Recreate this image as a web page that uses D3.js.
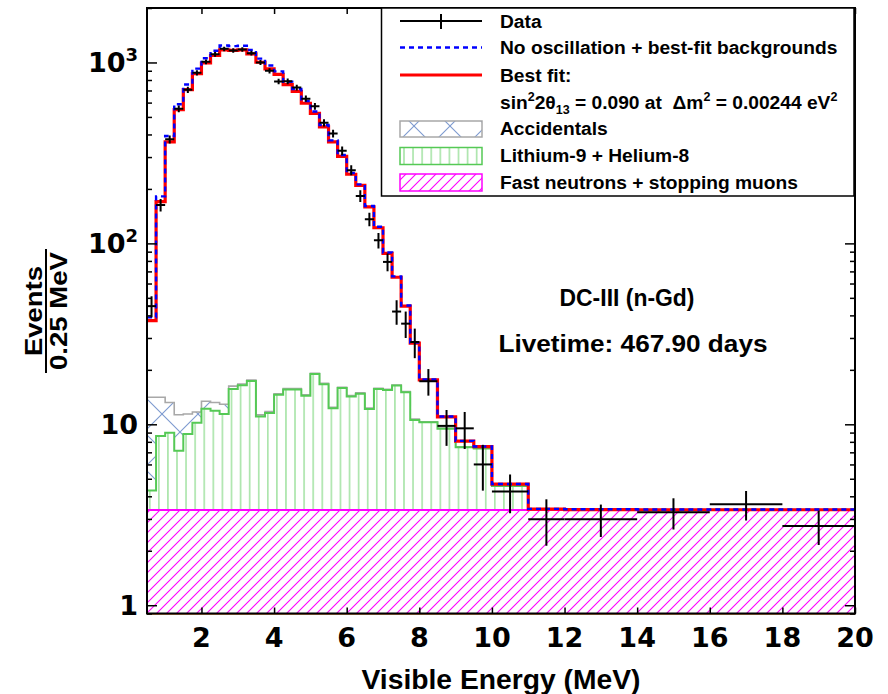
<!DOCTYPE html>
<html>
<head>
<meta charset="utf-8">
<script src="https://cdn.jsdelivr.net/npm/d3@7"></script>
<style>
body { margin: 0; background: #fff; }
text { font-family: "Liberation Sans", Arial, sans-serif; font-weight: bold; }
.tick-label { font-family: "DejaVu Sans", sans-serif; font-weight: bold; }
</style>
</head>
<body>
<div id="chart"></div>
<script>
// bin edges in MeV: 0.25 MeV bins up to 8 MeV, wider bins above
var binEdges = [0.5,0.75,1,1.25,1.5,1.75,2,2.25,2.5,2.75,3,3.25,3.5,3.75,4,4.25,4.5,4.75,5,5.25,
                5.5,5.75,6,6.25,6.5,6.75,7,7.25,7.5,7.75,8,8.5,9,9.5,10,11,12,14,16,18,20];

// everything below is events / 0.25 MeV, one value per bin
var dataObs = [45,163,376,554,706,876,1008,1109,1189,1166,1180,1125,1000,899,785,787,727,631,572,464,
               405,325,254,183,136,104,79,42,36,28.5,17.3,9.8,9.5,6.0,4.25,2.99,2.99,3.26,3.61,2.74];
var dataErr = [6,13,19,24,27,30,32,33,34,34,34,34,32,30,28,28,27,25,24,22,
               20,18,16,13.5,11.7,10.2,8.9,6.5,6.0,5.3,2.9,2.2,2.2,1.7,1.03,0.86,0.61,0.64,0.67,0.59];
var bestFit = [37.4,170,364,548,707,868,993,1093,1174,1166,1174,1115,1003,922,859,755,692,595,523,441,
               364,303,241,209,159,122,88,65,45,28.1,17.6,11.0,8.08,7.52,4.67,3.40,3.38,3.37,3.37,3.37];
var noOsc = [39,182,392,588,756,925,1056,1160,1242,1231,1236,1171,1050,962,893,782,714,612,536,451,
             371,308,245,212,161,123.5,89,65.7,45.4,28.3,17.7,11.05,8.1,7.54,4.68,3.41,3.39,3.38,3.38,3.38];
var accidentals = [9.8,5.5,4.2,4.15,2.56,1.5,1.2,1.3,1.5,0.6,0.25,0.22,0.22,0.2,0.2,0.2,0.18,0.18,0.18,0.17,
                   0.17,0.16,0.16,0.15,0.15,0.14,0.14,0.13,0.13,0.12,0.08,0.06,0.05,0.05,0.03,0.02,0.02,0.02,0.02,0.02];
var lithium = [0.94,5.25,5.63,3.79,5.48,6.84,8.84,8.54,8.04,12.3,13.1,14.0,7.7,8.2,11.2,12.2,12.2,11.0,15.6,13.3,
               8.9,12.5,10.9,11.4,8.8,12.3,12.1,13.0,11.7,7.2,6.9,6.1,4.1,4.0,1.2,0,0,0,0,0];
var fastNeutrons = [3.36,3.36,3.36,3.36,3.36,3.36,3.36,3.36,3.36,3.36,3.36,3.36,3.36,3.36,3.36,3.36,3.36,3.36,3.36,3.36,
                    3.36,3.36,3.36,3.36,3.36,3.36,3.36,3.36,3.36,3.36,3.36,3.36,3.36,3.36,3.36,3.36,3.36,3.36,3.36,3.36];

var xTicks = [2,4,6,8,10,12,14,16,18,20];
var yMajor = [1,10,100,1000];
var yMajorLabels = ["1","10","10^2","10^3"];

// dimension of the frame
var width = 888, height = 694;
var frame = {left:147, right:855, top:8, bottom:613.5};

var svg = d3.select("#chart").append("svg")
    .attr("width", width)
    .attr("height", height);

var x = d3.scaleLinear().domain([0.5, 20]).range([frame.left, frame.right]);
var y = d3.scaleLog().domain([0.9, 2000]).range([frame.bottom, frame.top]);

// hatch patterns (ROOT style fills)
var defs = svg.append("defs");
defs.append("clipPath").attr("id", "clip").append("rect")
    .attr("x", frame.left).attr("y", frame.top)
    .attr("width", frame.right - frame.left).attr("height", frame.bottom - frame.top);

function pattern(id, w, h, d, color) {
    var p = defs.append("pattern").attr("id", id)
        .attr("patternUnits", "userSpaceOnUse")
        .attr("width", w).attr("height", h);
    p.append("rect").attr("width", w).attr("height", h).attr("fill", "#fff");
    p.append("path").attr("d", d).attr("stroke", color).attr("stroke-width", 1.1).attr("fill", "none");
}
pattern("hatchAcc", 36, 36, "M0,0L36,36M36,0L0,36M-18,18L-0,36M18,-18L54,18M-18,18L18,-18M18,54L54,18", "#7d9ad0");
pattern("hatchLi", 9.08, 10, "M4.5,0V10", "#7fd87f");
pattern("hatchFn", 10, 10, "M0,10L10,0M-5,5L5,-5M5,15L15,5", "#ff00ff");

// build the stacked backgrounds from the component arrays
var table = dataObs.map(function(d, i) {
    return {lo: binEdges[i], hi: binEdges[i+1], fast: fastNeutrons[i], li: lithium[i], acc: accidentals[i],
            obs: d, err: dataErr[i], fit: bestFit[i], noosc: noOsc[i]};
});
var stacked = d3.stack().keys(["fast", "li", "acc"])(table);

function stepPts(values) {
    var pts = values.map(function(v, i) { return [binEdges[i], v]; });
    pts.push([binEdges[binEdges.length - 1], values[values.length - 1]]);
    return pts;
}
var stepLine = d3.line()
    .x(function(d) { return x(d[0]); })
    .y(function(d) { return y(d[1]); })
    .curve(d3.curveStepAfter);
var stepArea = d3.area()
    .x(function(d) { return x(d[0]); })
    .y0(frame.bottom)
    .y1(function(d) { return y(d[1]); })
    .curve(d3.curveStepAfter);

var plot = svg.append("g").attr("clip-path", "url(#clip)");

// background layers, top of stack first
var layerStyle = [
    {fill: "url(#hatchFn)", stroke: "#ff00ff", sw: 2},
    {fill: "url(#hatchLi)", stroke: "#55c955", sw: 2},
    {fill: "url(#hatchAcc)", stroke: "#a8a8a8", sw: 1.6}
];
[2, 1, 0].forEach(function(k) {
    var tops = stacked[k].map(function(d) { return d[1]; });
    plot.append("path").attr("d", stepArea(stepPts(tops))).attr("fill", layerStyle[k].fill);
    plot.append("path").attr("d", stepLine(stepPts(tops)))
        .attr("fill", "none").attr("stroke", layerStyle[k].stroke).attr("stroke-width", layerStyle[k].sw);
});

// best fit and no-oscillation predictions
plot.append("path").attr("d", stepLine(stepPts(bestFit)))
    .attr("fill", "none").attr("stroke", "#ff0000").attr("stroke-width", 3.2);
plot.append("path").attr("d", stepLine(stepPts(noOsc)))
    .attr("fill", "none").attr("stroke", "#0000ff").attr("stroke-width", 2.4)
    .attr("stroke-dasharray", "5,4");

// data points
var pts = plot.append("g").selectAll("g")
    .data(table)
    .enter().append("g")
    .attr("stroke", "#000").attr("stroke-width", 2);
pts.append("line")
    .attr("x1", function(d) { return x(d.lo); })
    .attr("x2", function(d) { return x(d.hi); })
    .attr("y1", function(d) { return y(d.obs); })
    .attr("y2", function(d) { return y(d.obs); });
pts.append("line")
    .attr("x1", function(d) { return x((d.lo + d.hi) / 2); })
    .attr("x2", function(d) { return x((d.lo + d.hi) / 2); })
    .attr("y1", function(d) { return y(d.obs - d.err); })
    .attr("y2", function(d) { return y(d.obs + d.err); });

// bottom edge line
svg.append("line").attr("x1", frame.left).attr("x2", frame.right)
    .attr("y1", frame.bottom + 0.5).attr("y2", frame.bottom + 0.5)
    .attr("stroke", "#b5651d").attr("stroke-width", 1.5);

// axes, ticks pointing inwards
function styleAxis(g) {
    g.select(".domain").remove();
    g.selectAll("line").attr("stroke", "#000").attr("stroke-width", 1.5);
    g.selectAll("text").remove();
}
svg.append("g").attr("transform", "translate(0," + frame.bottom + ")")
    .call(d3.axisBottom(x).tickValues(xTicks).tickSizeInner(-6).tickSizeOuter(0)).call(styleAxis);
svg.append("g").attr("transform", "translate(0," + frame.top + ")")
    .call(d3.axisTop(x).tickValues(xTicks).tickSizeInner(-6).tickSizeOuter(0)).call(styleAxis);

var yMinor = y.ticks().filter(function(v) { return yMajor.indexOf(v) < 0; });
svg.append("g").attr("transform", "translate(" + frame.left + ",0)")
    .call(d3.axisLeft(y).tickValues(yMajor).tickSizeInner(-10).tickSizeOuter(0)).call(styleAxis);
svg.append("g").attr("transform", "translate(" + frame.left + ",0)")
    .call(d3.axisLeft(y).tickValues(yMinor).tickSizeInner(-5).tickSizeOuter(0)).call(styleAxis);
svg.append("g").attr("transform", "translate(" + frame.right + ",0)")
    .call(d3.axisRight(y).tickValues(yMajor).tickSizeInner(-10).tickSizeOuter(0)).call(styleAxis);
svg.append("g").attr("transform", "translate(" + frame.right + ",0)")
    .call(d3.axisRight(y).tickValues(yMinor).tickSizeInner(-5).tickSizeOuter(0)).call(styleAxis);

// frame
svg.append("rect")
    .attr("x", frame.left).attr("y", frame.top)
    .attr("width", frame.right - frame.left).attr("height", frame.bottom - frame.top)
    .attr("fill", "none").attr("stroke", "#000").attr("stroke-width", 2);

// tick labels
svg.append("g").selectAll("text")
    .data(xTicks)
    .enter().append("text")
    .attr("class", "tick-label")
    .attr("x", function(d) { return x(d); })
    .attr("y", 647)
    .attr("text-anchor", "middle")
    .attr("font-size", 27)
    .text(function(d) { return d; });

var yl = svg.append("g").selectAll("text")
    .data(yMajor)
    .enter().append("text")
    .attr("class", "tick-label")
    .attr("x", 138)
    .attr("y", function(d) { return y(d) + 10; })
    .attr("text-anchor", "end")
    .attr("font-size", 27);
yl.each(function(d, i) {
    var parts = yMajorLabels[i].split("^");
    var t = d3.select(this);
    t.append("tspan").text(parts[0]);
    if (parts[1]) {
        t.append("tspan").attr("font-size", 18).attr("dy", -11).text(parts[1]);
    }
});

// axis titles
svg.append("text")
    .attr("x", 501).attr("y", 689)
    .attr("text-anchor", "middle")
    .attr("font-size", 27)
    .attr("textLength", 279).attr("lengthAdjust", "spacingAndGlyphs")
    .text("Visible Energy (MeV)");

var ytitle = svg.append("g").attr("transform", "translate(46,311) rotate(-90)");
ytitle.append("text").attr("x", 0).attr("y", -4).attr("text-anchor", "middle")
    .attr("font-size", 24).attr("textLength", 90).attr("lengthAdjust", "spacingAndGlyphs")
    .text("Events");
ytitle.append("line").attr("x1", -62).attr("x2", 62).attr("y1", 0).attr("y2", 0)
    .attr("stroke", "#000").attr("stroke-width", 2);
ytitle.append("text").attr("x", 0).attr("y", 21).attr("text-anchor", "middle")
    .attr("font-size", 24).attr("textLength", 118).attr("lengthAdjust", "spacingAndGlyphs")
    .text("0.25 MeV");

// annotations
svg.append("text").attr("x", 627).attr("y", 306).attr("text-anchor", "middle")
    .attr("font-size", 23).attr("textLength", 135).attr("lengthAdjust", "spacingAndGlyphs")
    .text("DC-III (n-Gd)");
svg.append("text").attr("x", 633).attr("y", 352).attr("text-anchor", "middle")
    .attr("font-size", 23).attr("textLength", 269).attr("lengthAdjust", "spacingAndGlyphs")
    .text("Livetime: 467.90 days");

// legend
var legend = svg.append("g");
legend.append("rect")
    .attr("x", 381.5).attr("y", frame.top).attr("width", 472.5).attr("height", 188)
    .attr("fill", "#fff").attr("stroke", "#000").attr("stroke-width", 1.5);

var lx0 = 400, lx1 = 482, tx = 500;
legend.append("line").attr("x1", lx0).attr("x2", lx1).attr("y1", 21).attr("y2", 21)
    .attr("stroke", "#000").attr("stroke-width", 2);
legend.append("line").attr("x1", 441).attr("x2", 441).attr("y1", 14).attr("y2", 29)
    .attr("stroke", "#000").attr("stroke-width", 2);
legend.append("line").attr("x1", lx0).attr("x2", lx1).attr("y1", 47.5).attr("y2", 47.5)
    .attr("stroke", "#0000ff").attr("stroke-width", 2.4).attr("stroke-dasharray", "5,4");
legend.append("line").attr("x1", lx0).attr("x2", lx1).attr("y1", 75).attr("y2", 75)
    .attr("stroke", "#ff0000").attr("stroke-width", 3);
legend.append("rect").attr("x", lx0).attr("y", 121).attr("width", lx1 - lx0).attr("height", 16)
    .attr("fill", "url(#hatchAcc)").attr("stroke", "#a8a8a8").attr("stroke-width", 1.5);
legend.append("rect").attr("x", lx0).attr("y", 147.5).attr("width", lx1 - lx0).attr("height", 17)
    .attr("fill", "url(#hatchLi)").attr("stroke", "#55c955").attr("stroke-width", 1.5);
legend.append("rect").attr("x", lx0).attr("y", 174).attr("width", lx1 - lx0).attr("height", 17)
    .attr("fill", "url(#hatchFn)").attr("stroke", "#ff00ff").attr("stroke-width", 1.5);

var legendText = [
    {y: 27.5, t: "Data"},
    {y: 54, t: "No oscillation + best-fit backgrounds"},
    {y: 81.5, t: "Best fit:"},
    {y: 134.5, t: "Accidentals"},
    {y: 161.5, t: "Lithium-9 + Helium-8"},
    {y: 188.5, t: "Fast neutrons + stopping muons"}
];
legend.selectAll(".lt").data(legendText).enter().append("text")
    .attr("class", "lt")
    .attr("x", tx).attr("y", function(d) { return d.y; })
    .attr("font-size", 19.2)
    .text(function(d) { return d.t; });

var formula = legend.append("text").attr("x", tx).attr("y", 108.5).attr("font-size", 19.2);
formula.append("tspan").text("sin");
formula.append("tspan").attr("font-size", 12.5).attr("dy", -8).text("2");
formula.append("tspan").attr("dy", 8).text("2\u03b8");
formula.append("tspan").attr("font-size", 12.5).attr("dy", 5).text("13");
formula.append("tspan").attr("dy", -5).text(" = 0.090 at \u00a0\u0394m");
formula.append("tspan").attr("font-size", 12.5).attr("dy", -8).text("2");
formula.append("tspan").attr("dy", 8).text(" = 0.00244 eV");
formula.append("tspan").attr("font-size", 12.5).attr("dy", -8).text("2");
</script>
</body>
</html>
